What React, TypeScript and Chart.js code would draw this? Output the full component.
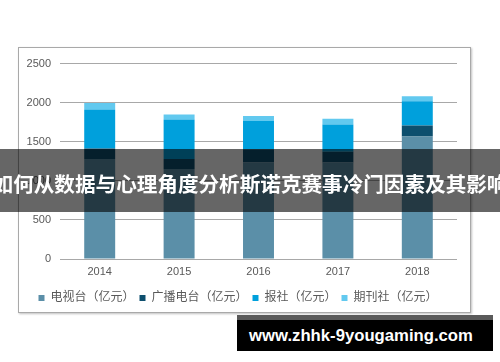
import React, { useEffect, useRef } from "react";
import { Chart, registerables } from "chart.js";

Chart.register(...registerables);

const categories = ["2014", "2015", "2016", "2017", "2018"];
const tvValues = [1278, 1151, 1236, 1236, 1566];
const radioValues = [136, 127, 169, 136, 143];
const newspaperValues = [498, 508, 360, 350, 310];
const magazineValues = [85, 63, 64, 72, 64];
const seriesNames = ["电视台（亿元）", "广播电台（亿元）", "报社（亿元）", "期刊社（亿元）"];
const yTicks = [0, 500, 1000, 1500, 2000, 2500];
const bannerText = "如何从数据与心理角度分析斯诺克赛事冷门因素及其影响";
const watermarkText = "www.zhhk-9yougaming.com";

const colors = ["#5b8fa8", "#0d4f6e", "#00a0dc", "#62c9ef"];
const FONT = "'Liberation Sans', Arial, 'Noto Sans CJK SC', sans-serif";

export default function App() {
  const canvasRef = useRef<HTMLCanvasElement | null>(null);

  useEffect(() => {
    const canvas = canvasRef.current;
    if (!canvas) return;
    const seriesData = [tvValues, radioValues, newspaperValues, magazineValues];
    const chart = new Chart(canvas, {
      type: "bar",
      data: {
        labels: categories,
        datasets: seriesData.map((d, i) => ({
          label: seriesNames[i],
          data: d,
          backgroundColor: colors[i],
          borderWidth: 0,
          barPercentage: 0.39,
          categoryPercentage: 1,
        })),
      },
      options: {
        animation: false,
        responsive: false,
        maintainAspectRatio: false,
        devicePixelRatio: 1,
        layout: { padding: { left: 0, right: 12, top: 8, bottom: 0 } },
        plugins: {
          tooltip: { enabled: false },
          legend: {
            display: true,
            position: "bottom",
            labels: {
              boxWidth: 6,
              boxHeight: 6,
              padding: 5,
              color: "#595959",
              font: { size: 12, family: FONT },
            },
          },
        },
        scales: {
          x: {
            stacked: true,
            grid: { display: false, drawTicks: false },
            border: { display: false },
            ticks: {
              color: "#595959",
              font: { size: 11, family: FONT },
              padding: 6,
              maxRotation: 0,
            },
            afterFit: (scale: any) => {
              scale.height = 28;
            },
          },
          y: {
            stacked: true,
            min: 0,
            max: 2500,
            afterBuildTicks: (scale: any) => {
              scale.ticks = yTicks.map((v) => ({ value: v }));
            },
            grid: { color: "#a8a8a8", lineWidth: 1, drawTicks: false },
            border: { display: false },
            ticks: {
              color: "#595959",
              font: { size: 11, family: FONT },
              padding: 9,
              callback: (value: any) => String(value),
            },
            afterFit: (scale: any) => {
              scale.width = 41;
            },
          },
        },
      },
    });
    return () => chart.destroy();
  }, []);

  return (
    <div
      style={{
        position: "absolute",
        left: 0,
        top: 0,
        width: 500,
        height: 362,
        background: "#ffffff",
        overflow: "hidden",
      }}
    >
      <div
        style={{
          position: "absolute",
          left: 18,
          top: 47,
          width: 451,
          height: 264,
          border: "1px solid #a9a9a9",
          boxShadow: "1px 1px 2px rgba(0,0,0,0.25)",
          background: "#ffffff",
        }}
      />
      <canvas
        ref={canvasRef}
        width={450}
        height={266}
        style={{ position: "absolute", left: 19, top: 48, width: 450, height: 266 }}
      />
      <div
        style={{
          position: "absolute",
          left: 0,
          top: 149,
          width: 500,
          height: 63,
          background: "rgba(0,0,0,0.6)",
          display: "flex",
          alignItems: "center",
          justifyContent: "center",
          paddingTop: 4,
          boxSizing: "border-box",
          color: "#ffffff",
          fontFamily: "'Noto Sans CJK SC', sans-serif",
          fontWeight: 700,
          fontSize: 20.6,
          whiteSpace: "nowrap",
          letterSpacing: 0,
        }}
      >
        {bannerText}
      </div>
      <div
        style={{
          position: "absolute",
          left: 237,
          top: 315,
          width: 256,
          height: 36,
          background: "#000000",
          borderTop: "5px solid #5a5a5a",
          boxSizing: "border-box",
          display: "flex",
          alignItems: "center",
          justifyContent: "center",
          paddingRight: 8,
          color: "#ffffff",
          fontFamily: "'Liberation Sans', Arial, sans-serif",
          fontWeight: 700,
          fontSize: 16.7,
          whiteSpace: "nowrap",
        }}
      >
        {watermarkText}
      </div>
    </div>
  );
}
